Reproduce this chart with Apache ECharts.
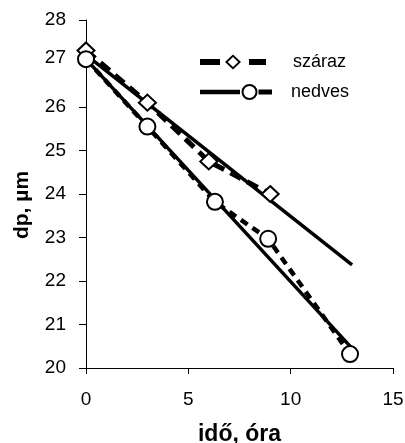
<!DOCTYPE html>
<html><head><meta charset="utf-8">
<script src="https://cdn.jsdelivr.net/npm/echarts@6/dist/echarts.min.js"></script>
<style>html,body{margin:0;padding:0;background:#fff}#c{width:405px;height:443px}</style>
</head><body><div id="c"></div>
<script>
var seriesNames = ['száraz', 'nedves'];
var xDry = [0, 3, 6, 9];
var yDry = [27.3, 26.1, 24.75, 24.0];
var xWet = [0, 3, 6.3, 8.9, 12.9];
var yWet = [27.1, 25.55, 23.82, 22.97, 20.32];
var fitX = [0, 13];
var fitDry = [27.2, 22.37];
var fitWet = [27.1, 20.45];
var xTicks = [0, 5, 10, 15];
var yTicks = [20, 21, 22, 23, 24, 25, 26, 27, 28];

function pairs(xs, ys){ return xs.map(function(x,i){return [x, ys[i]];}); }

var font = 'Liberation Sans, Arial, sans-serif';
var dryIcon = 'path://M0 4.5H20V10.5H0Z M33 0L41 7.5L33 15L25 7.5Z M33 2.6L27.8 7.5L33 12.4L38.2 7.5Z M49 4.5H66V10.5H49Z';
var wetIcon = 'path://M0 5.75H40V10.25H0Z M41.5 8A8 8 0 1 1 57.5 8A8 8 0 1 1 41.5 8Z M43.5 8A6 6 0 1 0 55.5 8A6 6 0 1 0 43.5 8Z M58.5 5.5H72V10.5H58.5Z';
var legendText = {fontFamily: font, fontSize: 18, color: '#000'};
var legendItemStyle = {color: '#000', borderWidth: 0, borderColor: '#000'};

var chart = echarts.init(document.getElementById('c'), null, {renderer:'canvas'});
chart.setOption({
  animation: false,
  grid: {left: 86, right: 12, top: 20, bottom: 75, containLabel: false, outerBoundsMode: 'none'},
  legend: [
    {left: 200, top: 53, padding: 0, itemWidth: 66, itemHeight: 15, icon: dryIcon,
     itemStyle: legendItemStyle, selectedMode: false,
     textStyle: Object.assign({padding: [0,0,0,22]}, legendText),
     data: [seriesNames[0]]},
    {left: 200, top: 83, padding: 0, itemWidth: 72, itemHeight: 16, icon: wetIcon,
     itemStyle: legendItemStyle, selectedMode: false,
     textStyle: Object.assign({padding: [0,0,0,14]}, legendText),
     data: [seriesNames[1]]}
  ],
  xAxis: {
    type: 'value', min: xTicks[0], max: xTicks[xTicks.length-1], interval: 5,
    name: 'idő, óra', nameLocation: 'middle', nameGap: 55,
    nameTextStyle: {fontFamily: font, fontSize: 23, fontWeight: 'bold', color: '#000'},
    axisLine: {show: true, lineStyle: {color: '#000', width: 1}},
    axisTick: {show: true, inside: false, length: 6, lineStyle: {color: '#000'}},
    axisLabel: {fontFamily: font, fontSize: 19, color: '#000', margin: 22},
    splitLine: {show: false}
  },
  yAxis: {
    type: 'value', min: yTicks[0], max: yTicks[yTicks.length-1], interval: 1,
    name: 'dp, µm', nameLocation: 'middle', nameGap: 53, nameRotate: 90,
    nameTextStyle: {fontFamily: font, fontSize: 21, fontWeight: 'bold', color: '#000', padding: [0, 22, 0, 0]},
    axisLine: {show: true, lineStyle: {color: '#000', width: 1}},
    axisTick: {show: true, inside: false, length: 7, lineStyle: {color: '#000'}},
    axisLabel: {fontFamily: font, fontSize: 19, color: '#000', margin: 20,
      formatter: function(v){ return v === 27 ? '{up|' + v + '}' : String(v); },
      rich: {up: {fontFamily: font, fontSize: 19, color: '#000', padding: [0,0,12,0]}}},
    splitLine: {show: false}
  },
  series: [
    {name: 'fit1', type: 'line', data: pairs(fitX, fitDry), showSymbol: false, symbol: 'none',
     lineStyle: {color: '#000', width: 3.5, type: 'solid'}, z: 1, silent: true},
    {name: 'fit2', type: 'line', data: pairs(fitX, fitWet), showSymbol: false, symbol: 'none',
     lineStyle: {color: '#000', width: 3.5, type: 'solid'}, z: 1, silent: true},
    {name: seriesNames[0], type: 'line', data: pairs(xDry, yDry),
     symbol: 'diamond', symbolSize: [17, 16],
     itemStyle: {color: '#fff', borderColor: '#000', borderWidth: 2},
     lineStyle: {color: '#000', width: 5, type: [12, 7]}, z: 3},
    {name: seriesNames[1], type: 'line', data: pairs(xWet, yWet),
     symbol: 'circle', symbolSize: 16,
     itemStyle: {color: '#fff', borderColor: '#000', borderWidth: 2},
     lineStyle: {color: '#000', width: 4.5, type: [8, 6]}, z: 3}
  ]
});
</script></body></html>
